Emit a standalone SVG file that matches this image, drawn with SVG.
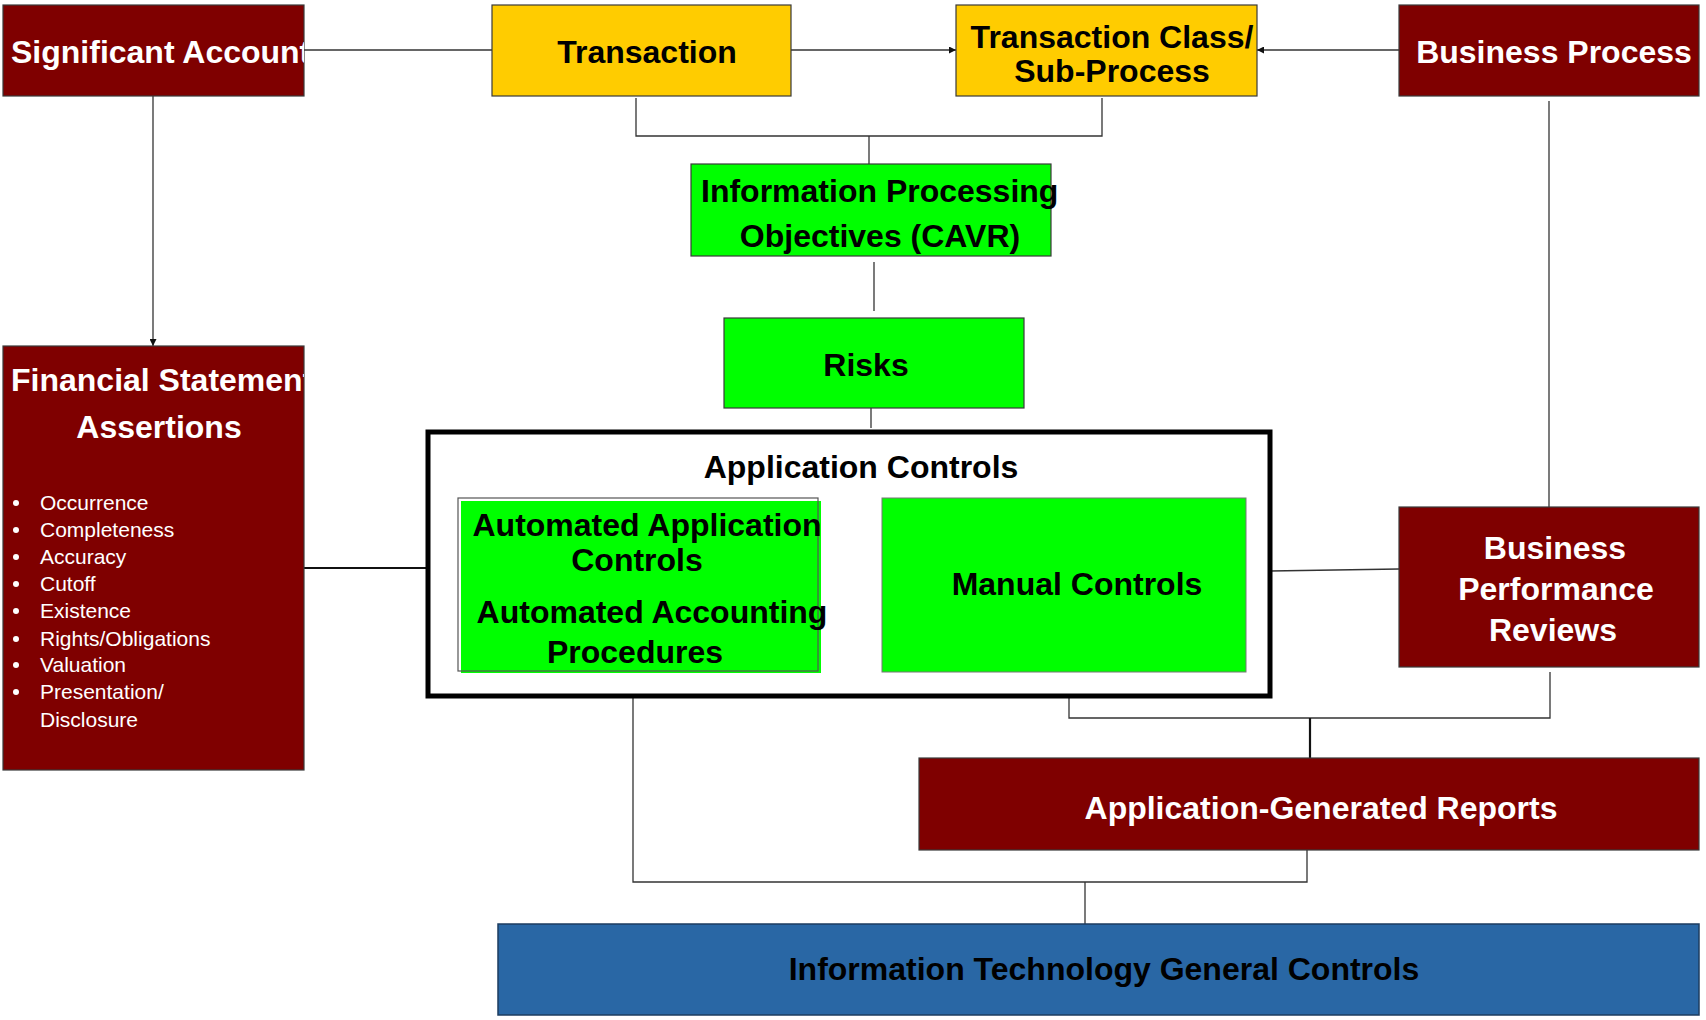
<svg xmlns="http://www.w3.org/2000/svg" width="1706" height="1020" viewBox="0 0 1706 1020">
<style>
.box{stroke:#3a3a3a;stroke-width:1.2}
.maroon{fill:#7f0000}
.yellow{fill:#ffcc00}
.green{fill:#00ff00}
.blue{fill:#2967a5}
.t{font-family:"Liberation Sans",Arial,sans-serif;font-weight:bold;font-size:32px}
.w{fill:#ffffff}
.k{fill:#000000}
.li{font-family:"Liberation Sans",Arial,sans-serif;font-size:21px;fill:#ffffff}
.c{fill:none;stroke:#333;stroke-width:1.3}
.c2{fill:none;stroke:#111;stroke-width:2.2}
</style>
<defs>
<marker id="ah" viewBox="0 0 10 10" refX="10" refY="5" markerWidth="7" markerHeight="7" orient="auto" markerUnits="userSpaceOnUse">
<path d="M0,0 L10,5 L0,10 z" fill="#111"/>
</marker>
<clipPath id="clipSA"><rect x="3" y="5" width="301" height="91"/></clipPath>
<clipPath id="clipFSA"><rect x="3" y="346" width="301" height="424"/></clipPath>
</defs>
<rect width="1706" height="1020" fill="#ffffff"/>

<g id="connectors">
<line class="c" x1="304" y1="50" x2="492" y2="50"/>
<line class="c" x1="791" y1="50" x2="956" y2="50" marker-end="url(#ah)"/>
<line class="c" x1="1399" y1="50" x2="1257" y2="50" marker-end="url(#ah)"/>
<line class="c" x1="153" y1="96" x2="153" y2="346" marker-end="url(#ah)"/>
<polyline class="c" points="636,98 636,136 1102,136 1102,98"/>
<line class="c" x1="869" y1="136" x2="869" y2="164"/>
<line class="c" x1="874" y1="262" x2="874" y2="311"/>
<line class="c" x1="871" y1="408" x2="871" y2="428"/>
<line class="c2" x1="304" y1="568" x2="428" y2="568"/>
<line class="c" x1="1270" y1="571" x2="1399" y2="569"/>
<line class="c" x1="1549" y1="101" x2="1549" y2="507"/>
<polyline class="c" points="1069,675 1069,718 1550,718 1550,672"/>
<line class="c2" x1="1310" y1="718" x2="1310" y2="758"/>
<polyline class="c" points="633,669 633,882 1307,882 1307,850"/>
<line class="c" x1="1085" y1="882" x2="1085" y2="924"/>
</g>

<g id="significant-account">
<rect class="box maroon" x="3" y="5" width="301" height="91"/>
<text class="t w" x="11" y="63" clip-path="url(#clipSA)">Significant Account</text>
</g>

<g id="transaction">
<rect class="box yellow" x="492" y="5" width="299" height="91"/>
<text class="t k" x="647" y="63" text-anchor="middle">Transaction</text>
</g>

<g id="transaction-class">
<rect class="box yellow" x="956" y="5" width="301" height="91"/>
<text class="t k" x="1112" y="48" text-anchor="middle">Transaction Class/</text>
<text class="t k" x="1112" y="82" text-anchor="middle">Sub-Process</text>
</g>

<g id="business-process">
<rect class="box maroon" x="1399" y="5" width="300" height="91"/>
<text class="t w" x="1554" y="63" text-anchor="middle">Business Process</text>
</g>

<g id="ipo">
<rect class="box green" x="691" y="164" width="360" height="92"/>
<text class="t k" x="701" y="202">Information Processing</text>
<text class="t k" x="880" y="247" text-anchor="middle">Objectives (CAVR)</text>
</g>

<g id="risks">
<rect class="box green" x="724" y="318" width="300" height="90"/>
<text class="t k" x="866" y="376" text-anchor="middle">Risks</text>
</g>

<g id="fsa">
<rect class="box maroon" x="3" y="346" width="301" height="424"/>
<text class="t w" x="11" y="391" clip-path="url(#clipFSA)">Financial Statement</text>
<text class="t w" x="159" y="438" text-anchor="middle">Assertions</text>
<g class="li">
<circle cx="16" cy="503" r="3" fill="#fff"/><text x="40" y="510">Occurrence</text>
<circle cx="16" cy="530" r="3" fill="#fff"/><text x="40" y="537">Completeness</text>
<circle cx="16" cy="557" r="3" fill="#fff"/><text x="40" y="564">Accuracy</text>
<circle cx="16" cy="584" r="3" fill="#fff"/><text x="40" y="591">Cutoff</text>
<circle cx="16" cy="611" r="3" fill="#fff"/><text x="40" y="618">Existence</text>
<circle cx="16" cy="639" r="3" fill="#fff"/><text x="40" y="646">Rights/Obligations</text>
<circle cx="16" cy="665" r="3" fill="#fff"/><text x="40" y="672">Valuation</text>
<circle cx="16" cy="692" r="3" fill="#fff"/><text x="40" y="699">Presentation/</text>
<text x="40" y="727">Disclosure</text>
</g>
</g>

<g id="application-controls">
<rect x="428" y="432" width="842" height="264" fill="#fff" stroke="#000" stroke-width="5"/>
<text class="t k" x="861" y="478" text-anchor="middle">Application Controls</text>
</g>

<g id="automated-controls">
<rect class="green" x="461" y="501" width="360" height="172"/>
<rect x="458" y="498" width="360" height="173" fill="none" stroke="#555" stroke-width="1.2"/>
<text class="t k" x="647" y="536" text-anchor="middle">Automated Application</text>
<text class="t k" x="637" y="571" text-anchor="middle">Controls</text>
<text class="t k" x="652" y="623" text-anchor="middle">Automated Accounting</text>
<text class="t k" x="635" y="663" text-anchor="middle">Procedures</text>
</g>

<g id="manual-controls">
<rect class="green" x="882" y="498" width="364" height="174" stroke="#777" stroke-width="1"/>
<text class="t k" x="1077" y="595" text-anchor="middle">Manual Controls</text>
</g>

<g id="bpr">
<rect class="box maroon" x="1399" y="507" width="300" height="160"/>
<text class="t w" x="1555" y="559" text-anchor="middle">Business</text>
<text class="t w" x="1556" y="600" text-anchor="middle">Performance</text>
<text class="t w" x="1553" y="641" text-anchor="middle">Reviews</text>
</g>

<g id="agr">
<rect class="box maroon" x="919" y="758" width="780" height="92"/>
<text class="t w" x="1321" y="819" text-anchor="middle">Application-Generated Reports</text>
</g>

<g id="itgc">
<rect class="blue" x="498" y="924" width="1201" height="91" stroke="#1c3c60" stroke-width="1.5"/>
<text class="t k" x="1104" y="980" text-anchor="middle">Information Technology General Controls</text>
</g>
</svg>
